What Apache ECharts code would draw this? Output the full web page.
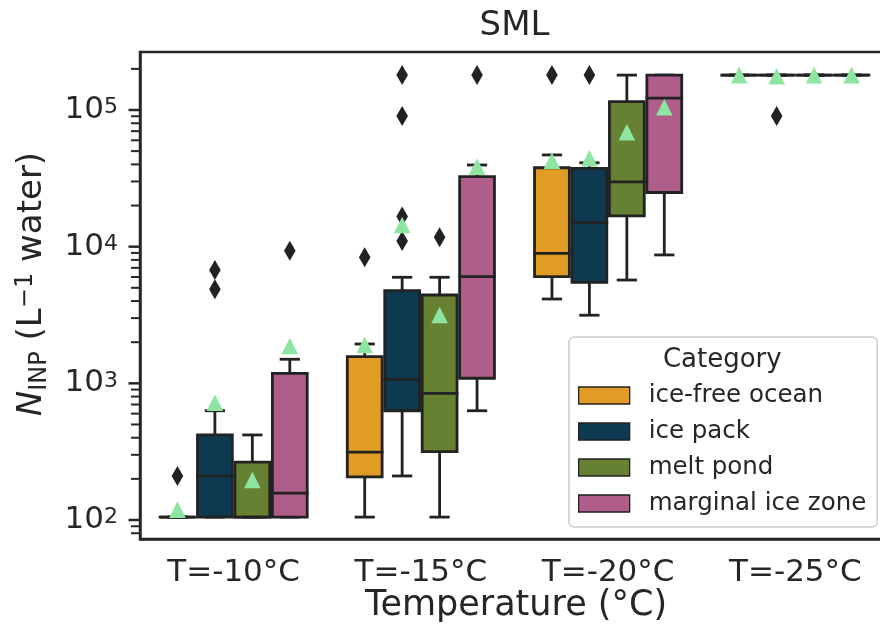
<!DOCTYPE html>
<html>
<head>
<meta charset="utf-8">
<script src="https://cdn.jsdelivr.net/npm/echarts@6/dist/echarts.min.js"></script>
<style>
html, body { margin: 0; padding: 0; background: #fff; }
#chart { width: 880px; height: 634px; }
</style>
</head>
<body>
<div id="chart"></div>
<script>
const temps = ['T=-10°C', 'T=-15°C', 'T=-20°C', 'T=-25°C'];
const categories = ['ice-free ocean', 'ice pack', 'melt pond', 'marginal ice zone'];
const colors = ['#E09C24', '#0E3A51', '#678132', '#AF5E8C'];

// box stats per temperature: [lower whisker, Q1, median, Q3, upper whisker]
const iceFreeBox = [[105, 105, 105, 105, 105], [105, 207, 314, 1570, 1940], [4140, 6030, 8930, 37800, 46900], [180000, 180000, 180000, 180000, 180000]];
const icePackBox = [[105, 105, 210, 419, 630], [210, 630, 1070, 4770, 5970], [3150, 5480, 14960, 37400, 41100], [180000, 180000, 180000, 180000, 180000]];
const meltPondBox = [[105, 105, 105, 265, 419], [105, 316, 845, 4430, 5970], [5700, 16800, 29800, 115000, 180000], [180000, 180000, 180000, 180000, 180000]];
const mizBox = [[105, 105, 157, 1184, 1500], [630, 1089, 6030, 32500, 39600], [8700, 24900, 122000, 180000, 180000], [180000, 180000, 180000, 180000, 180000]];

// means (green triangles)
const iceFreeMean = [119, 1910, 42500, 180000];
const icePackMean = [721, 14400, 44300, 176500];
const meltPondMean = [196, 3160, 68700, 180000];
const mizMean = [1875, 38400, 104700, 180000];

// outliers (black diamonds)
const iceFreeOut = [[210], [8350], [180000], []];
const icePackOut = [[6745, 4875], [180000, 90300, 16600, 11000], [180000], [90300]];
const meltPondOut = [[], [11700], [], []];
const mizOut = [[9330], [180000], [], []];

// y axis ticks
const yMajorTicks = [100, 1000, 10000, 100000];
const yMinorTicks = [80, 90, 200, 300, 400, 500, 600, 700, 800, 900,
    2000, 3000, 4000, 5000, 6000, 7000, 8000, 9000,
    20000, 30000, 40000, 50000, 60000, 70000, 80000, 90000, 200000];

const FONT = 'DejaVu Sans';
const INK = '#262626';
const EDGE = '#222222';
const MEAN_COLOR = '#8DE5A1';

const boxData = [iceFreeBox, icePackBox, meltPondBox, mizBox];
const meanData = [iceFreeMean, icePackMean, meltPondMean, mizMean];
const outData = [iceFreeOut, icePackOut, meltPondOut, mizOut];

const chart = echarts.init(document.getElementById('chart'));

function hueCenter(api, ci, h) {
    const band = api.size([1, 0])[0];
    return api.coord([ci, 100])[0] + (h - 1.5) * band * 0.2;
}

function renderBox(h) {
    return function (params, api) {
        const ci = api.value(0);
        const band = api.size([1, 0])[0];
        const cx = hueCenter(api, ci, h);
        const bw = band * 0.186;
        const y = [1, 2, 3, 4, 5].map(d => api.coord([ci, api.value(d)])[1]);
        const line = {stroke: EDGE, lineWidth: 2.8};
        const cap = {stroke: EDGE, lineWidth: 2.8, lineCap: 'square'};
        return {
            type: 'group',
            children: [
                {type: 'line', shape: {x1: cx, y1: y[1], x2: cx, y2: y[0]}, style: line},
                {type: 'line', shape: {x1: cx, y1: y[3], x2: cx, y2: y[4]}, style: line},
                {type: 'line', shape: {x1: cx - bw / 4, y1: y[0], x2: cx + bw / 4, y2: y[0]}, style: cap},
                {type: 'line', shape: {x1: cx - bw / 4, y1: y[4], x2: cx + bw / 4, y2: y[4]}, style: cap},
                {type: 'rect', shape: {x: cx - bw / 2, y: y[3], width: bw, height: y[1] - y[3]},
                    style: {fill: colors[h], stroke: EDGE, lineWidth: 2.8}},
                {type: 'line', shape: {x1: cx - bw / 2, y1: y[2], x2: cx + bw / 2, y2: y[2]}, style: cap}
            ]
        };
    };
}

function renderOutlier(params, api) {
    const ci = api.value(0);
    const cx = hueCenter(api, ci, api.value(2));
    const cy = api.coord([ci, api.value(1)])[1];
    return {
        type: 'polygon',
        shape: {points: [[cx, cy - 10], [cx + 5.8, cy], [cx, cy + 10], [cx - 5.8, cy]]},
        style: {fill: EDGE}
    };
}

function renderMean(params, api) {
    const ci = api.value(0);
    const cx = hueCenter(api, ci, api.value(2));
    const cy = api.coord([ci, api.value(1)])[1];
    const r = 8.3;
    return {
        type: 'polygon',
        shape: {points: [[cx, cy - r], [cx + r, cy + r], [cx - r, cy + r]]},
        style: {fill: MEAN_COLOR}
    };
}

function renderTick(len, width) {
    return function (params, api) {
        const x0 = params.coordSys.x;
        const y = api.coord([0, api.value(1)])[1];
        return {type: 'line', shape: {x1: x0 - len, y1: y, x2: x0, y2: y}, style: {stroke: INK, lineWidth: width}};
    };
}

const outlierPoints = [];
const meanPoints = [];
categories.forEach((c, h) => {
    temps.forEach((t, ci) => {
        outData[h][ci].forEach(v => outlierPoints.push([ci, v, h]));
        meanPoints.push([ci, meanData[h][ci], h]);
    });
});

const series = categories.map((c, h) => ({
    name: c,
    type: 'custom',
    renderItem: renderBox(h),
    itemStyle: {color: colors[h]},
    encode: {x: 0, y: [1, 2, 3, 4, 5]},
    data: boxData[h].map((b, ci) => [ci].concat(b))
}));
series.push({name: 'outliers', type: 'custom', renderItem: renderOutlier, encode: {x: 0, y: 1}, data: outlierPoints});
series.push({name: 'means', type: 'custom', renderItem: renderMean, encode: {x: 0, y: 1}, data: meanPoints});
series.push({name: 'majorTicks', type: 'custom', renderItem: renderTick(11.5, 2.5), encode: {x: 0, y: 1},
    data: yMajorTicks.map(v => [0, v])});
series.push({name: 'minorTicks', type: 'custom', renderItem: renderTick(9, 2), encode: {x: 0, y: 1},
    data: yMinorTicks.map(v => [0, v])});

chart.setOption({
    animation: false,
    backgroundColor: '#ffffff',
    grid: {
        left: 140, right: -9, top: 52, bottom: 95,
        show: true, borderColor: INK, borderWidth: 2.5,
        outerBoundsMode: 'none'
    },
    xAxis: {
        type: 'category',
        data: temps,
        axisLine: {lineStyle: {color: INK, width: 2.5}},
        axisTick: {alignWithLabel: true, length: 12, lineStyle: {color: INK, width: 2.5}},
        axisLabel: {color: INK, fontFamily: FONT, fontSize: 31, margin: 18}
    },
    yAxis: {
        type: 'log',
        logBase: 10,
        min: 72.6,
        max: 265700,
        axisLine: {show: true, lineStyle: {color: INK, width: 2.5}},
        axisTick: {show: false},
        splitLine: {show: false},
        axisLabel: {
            margin: 22,
            color: INK,
            fontFamily: FONT,
            fontSize: 31,
            formatter: function (v) {
                const lg = Math.log10(v);
                const e = Math.round(lg);
                if (Math.abs(lg - e) > 0.001) return '';
                return '{b|10}{s|' + e + '}';
            },
            rich: {
                b: {fontSize: 31, fontFamily: FONT, color: INK},
                s: {fontSize: 22, fontFamily: FONT, color: INK, verticalAlign: 'top', padding: [2, 0, 0, 0]}
            }
        }
    },
    legend: {
        data: categories.map((c, i) => ({name: c, itemStyle: {color: colors[i], borderColor: EDGE, borderWidth: 1.3}})),
        orient: 'vertical',
        left: 569,
        top: 337,
        icon: 'rect',
        itemWidth: 51,
        itemHeight: 17,
        itemGap: 11,
        padding: [46, 11, 11, 9],
        backgroundColor: 'rgba(255,255,255,0.8)',
        borderColor: '#cccccc',
        borderWidth: 1.5,
        borderRadius: 5,
        selectedMode: false,
        textStyle: {fontSize: 24.5, fontFamily: FONT, color: INK, lineHeight: 25, padding: [0, 0, 0, 14]}
    },
    graphic: [
        {type: 'text', x: 514.5, y: 26.3, z: 100,
            style: {text: 'SML', fontSize: 34, fontFamily: FONT, fill: INK, align: 'center', verticalAlign: 'middle'}},
        {type: 'text', x: 516, y: 605.5, z: 100,
            style: {text: 'Temperature (°C)', fontSize: 35, fontFamily: FONT, fill: INK, align: 'center', verticalAlign: 'middle'}},
        {type: 'text', x: 32.3, y: 284, z: 100, rotation: Math.PI / 2,
            style: {
                text: '{it|N}{sub|INP}{n| (L}{sup|−1}{n| water)}',
                align: 'center', verticalAlign: 'middle',
                rich: {
                    it: {fontSize: 34, fontFamily: FONT, fontStyle: 'italic', fill: INK},
                    n: {fontSize: 34, fontFamily: FONT, fill: INK},
                    sub: {fontSize: 24, fontFamily: FONT, fill: INK, padding: [14, 0, 0, 0]},
                    sup: {fontSize: 24, fontFamily: FONT, fill: INK, verticalAlign: 'top'}
                }
            }},
        {type: 'text', x: 722.3, y: 360, z: 100,
            style: {text: 'Category', fontSize: 26, fontFamily: FONT, fill: INK, align: 'center', verticalAlign: 'middle'}}
    ],
    series: series
});
</script>
</body>
</html>
